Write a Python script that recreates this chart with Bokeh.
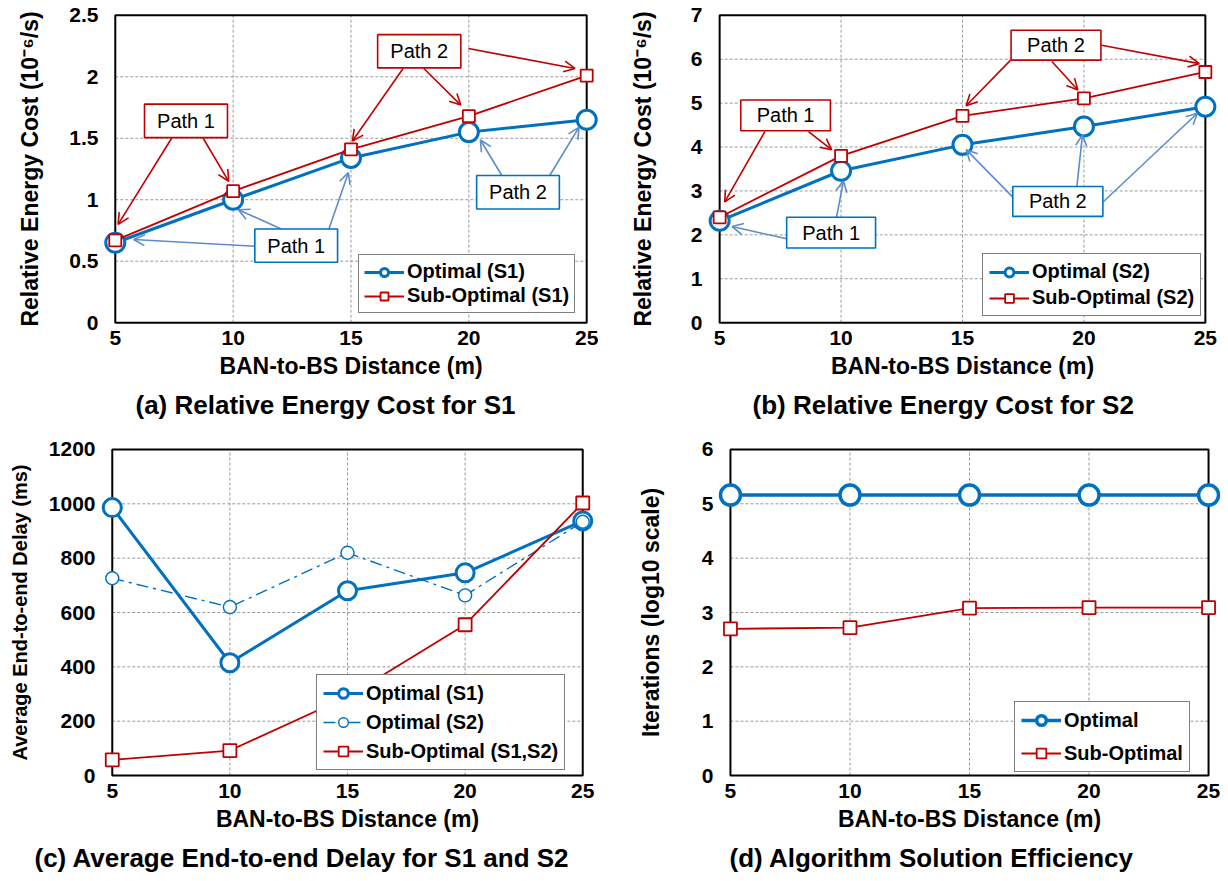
from bokeh.plotting import figure
from bokeh.models import (FixedTicker, Legend, LegendItem, Arrow, OpenHead, BoxAnnotation,
                          Label, Title, NumeralTickFormatter, Range1d)
from bokeh.layouts import column, row
from bokeh.embed import file_html
from bokeh.resources import INLINE

FONT = "Liberation Sans"
BLUE = "#0070C0"
RED = "#C00000"
ABLUE = "#5B8CCB"

# ---------------- data ----------------
distance = [5, 10, 15, 20, 25]
x_ticks = [5, 10, 15, 20, 25]

a_optimal = [0.65, 1.00, 1.34, 1.55, 1.65]
a_suboptimal = [0.67, 1.07, 1.41, 1.68, 2.01]
a_yticks = [0, 0.5, 1, 1.5, 2, 2.5]

b_optimal = [2.32, 3.46, 4.05, 4.47, 4.92]
b_suboptimal = [2.40, 3.80, 4.71, 5.11, 5.71]
b_yticks = [0, 1, 2, 3, 4, 5, 6, 7]

c_optimal_s1 = [986, 415, 680, 746, 937]
c_optimal_s2 = [726, 620, 820, 663, 934]
c_suboptimal = [58, 92, 290, 555, 1003]
c_yticks = [0, 200, 400, 600, 800, 1000, 1200]

d_optimal = [5.16, 5.16, 5.16, 5.16, 5.16]
d_suboptimal = [2.70, 2.72, 3.08, 3.09, 3.09]
d_yticks = [0, 1, 2, 3, 4, 5, 6]

# annotation callouts: (text, colour, box [left, right, bottom, top], arrows [(x0,y0,x1,y1),...])
a_callouts = [
    ("Path 1", RED, [6.24, 9.76, 1.505, 1.778], [(7.39, 1.50, 5.12, 0.80), (8.73, 1.50, 9.81, 1.15)]),
    ("Path 2", RED, [16.13, 19.66, 2.073, 2.343], [(17.21, 2.068, 15.06, 1.478), (18.09, 2.068, 19.66, 1.77),
                                                 (19.98, 2.23, 24.5, 2.068)]),
    ("Path 1", BLUE, [10.92, 14.43, 0.492, 0.762], [(10.92, 0.622, 5.78, 0.676), (12.04, 0.762, 10.22, 0.919),
                                                  (14.06, 0.762, 14.89, 1.22)]),
    ("Path 2", BLUE, [20.33, 23.84, 0.924, 1.197], [(21.4, 1.197, 20.49, 1.486), (23.43, 1.197, 24.67, 1.589)]),
]
b_callouts = [
    ("Path 1", RED, [5.87, 9.56, 4.37, 5.07], [(6.86, 4.35, 5.21, 2.75), (8.66, 4.35, 9.61, 3.94)]),
    ("Path 2", RED, [17.0, 20.7, 5.98, 6.66], [(16.98, 5.98, 15.15, 4.94), (18.68, 5.95, 19.75, 5.30),
                                             (20.73, 6.32, 24.75, 5.90)]),
    ("Path 1", BLUE, [7.76, 11.42, 1.70, 2.40], [(7.76, 1.91, 5.51, 2.19), (9.81, 2.40, 10.1, 3.23)]),
    ("Path 2", BLUE, [17.07, 20.78, 2.42, 3.10], [(17.07, 2.86, 15.15, 3.94), (19.71, 3.10, 19.94, 4.28),
                                                (20.81, 2.76, 24.67, 4.77)]),
]

XPAD = 0.5      # extra room so edge markers are not clipped
YPAD = 0.006    # fraction of y span


def make_fig(w, h, left, right, top, bottom, yticks, ylabel, ylabel_size, ylabel_standoff,
             caption, cap_offset, cap_standoff):
    ymax = yticks[-1]
    yp = ymax * YPAD
    p = figure(width=w, height=h, min_border_left=left, min_border_right=right,
               min_border_top=top, min_border_bottom=bottom,
               x_range=Range1d(x_ticks[0] - XPAD, x_ticks[-1] + XPAD),
               y_range=Range1d(yticks[0] - yp, ymax + yp),
               output_backend="svg", toolbar_location=None)
    p.background_fill_color = "white"
    p.border_fill_color = "white"
    p.outline_line_color = None
    p.xgrid.visible = False
    p.ygrid.visible = False
    # dashed grid inside the plotting box
    gx = x_ticks[1:-1]
    p.segment(x0=gx, y0=[yticks[0]] * len(gx), x1=gx, y1=[ymax] * len(gx),
              line_color="#9a9a9a", line_dash="3 2", line_width=1)
    gy = yticks[1:-1]
    p.segment(x0=[x_ticks[0]] * len(gy), y0=gy, x1=[x_ticks[-1]] * len(gy), y1=gy,
              line_color="#9a9a9a", line_dash="3 2", line_width=1)
    # plotting box border
    p.quad(left=[x_ticks[0]], right=[x_ticks[-1]], bottom=[yticks[0]], top=[ymax],
           fill_color=None, line_color="black", line_width=2)

    p.xaxis.ticker = FixedTicker(ticks=x_ticks)
    p.yaxis.ticker = FixedTicker(ticks=yticks)
    p.yaxis.formatter = NumeralTickFormatter(format="0.[0]")
    for ax in p.axis:
        ax.axis_line_color = None
        ax.major_tick_line_color = None
        ax.minor_tick_line_color = None
        ax.major_tick_out = 0
        ax.major_tick_in = 0
        ax.major_label_text_font = FONT
        ax.major_label_text_font_size = "21px"
        ax.major_label_text_font_style = "bold"
        ax.major_label_text_color = "black"
        ax.axis_label_text_font = FONT
        ax.axis_label_text_font_style = "bold"
        ax.axis_label_text_color = "black"
    p.xaxis.major_label_standoff = 6
    p.yaxis.major_label_standoff = 5
    p.xaxis.axis_label = "BAN-to-BS Distance (m)"
    p.xaxis.axis_label_text_font_size = "23px"
    p.xaxis.axis_label_standoff = 5
    p.yaxis.axis_label = ylabel
    p.yaxis.axis_label_text_font_size = ylabel_size
    p.yaxis.axis_label_standoff = ylabel_standoff
    t = Title(text=caption, align="left", offset=cap_offset, standoff=cap_standoff,
              text_font=FONT, text_font_size="26px", text_font_style="bold", text_color="black")
    p.add_layout(t, "below")
    return p


def add_series(p, y, color, lw, marker, msize, mlw, dash="solid"):
    ln = p.line(distance, y, line_color=color, line_width=lw, line_dash=dash)
    sc = p.scatter(distance, y, marker=marker, size=msize, line_color=color, line_width=mlw,
                   fill_color="white")
    return [ln, sc]


def add_legend(p, items, loc, label_height, spacing, padding):
    leg = Legend(items=[LegendItem(label=lab, renderers=r) for lab, r in items],
                 location=loc, margin=0, padding=padding, spacing=spacing,
                 glyph_width=40, glyph_height=label_height, label_height=label_height,
                 label_standoff=3, border_line_color="black", border_line_width=1.5,
                 background_fill_color="white", background_fill_alpha=1,
                 label_text_font=FONT, label_text_font_size="20px", label_text_font_style="bold",
                 label_text_color="black")
    p.add_layout(leg)


def add_callouts(p, callouts):
    for text, color, box, arrows in callouts:
        acolor = color if color == RED else ABLUE
        for x0, y0, x1, y1 in arrows:
            p.add_layout(Arrow(end=OpenHead(size=11, line_color=acolor, line_width=1.6),
                               x_start=x0, y_start=y0, x_end=x1, y_end=y1,
                               line_color=acolor, line_width=1.6))
    for text, color, box, arrows in callouts:
        p.add_layout(BoxAnnotation(left=box[0], right=box[1], bottom=box[2], top=box[3],
                                   fill_color="white", fill_alpha=1, line_color=color,
                                   line_width=1.6, line_alpha=1))
        p.add_layout(Label(x=(box[0] + box[1]) / 2, y=(box[2] + box[3]) / 2, text=text,
                           text_align="center", text_baseline="middle", text_font=FONT,
                           text_font_size="20px", text_color="black"))


# ---------------- panel (a) ----------------
pa = make_fig(610, 432, 103, 12, 13, 108, a_yticks, "Relative Energy Cost (10\u207b\u2076/s)", "23px", 23,
              "(a) Relative Energy Cost for S1", 32, 12)
ra1 = add_series(pa, a_optimal, BLUE, 3, "circle", 19, 3)
ra2 = add_series(pa, a_suboptimal, RED, 1.8, "square", 12, 1.8)
add_callouts(pa, a_callouts)
add_legend(pa, [("Optimal (S1)", ra1), ("Sub-Optimal (S1)", ra2)], (255, 11), 20, 1, 5)

# ---------------- panel (b) ----------------
pb = make_fig(618, 432, 97, 11, 13, 107, b_yticks, "Relative Energy Cost (10\u207b\u2076/s)", "23px", 32,
              "(b) Relative Energy Cost for S2", 45, 12)
rb1 = add_series(pb, b_optimal, BLUE, 3, "circle", 19, 3)
rb2 = add_series(pb, b_suboptimal, RED, 1.8, "square", 12, 1.8)
add_callouts(pb, b_callouts)
add_legend(pb, [("Optimal (S2)", rb1), ("Sub-Optimal (S2)", rb2)], (275, 8), 22, 3, 6)

# ---------------- panel (c) ----------------
pc = make_fig(610, 449, 100, 16, 13, 104, c_yticks, "Average End-to-end Delay (ms)", "20px", 15,
              "(c) Average End-to-end Delay for S1 and S2", -66, 12)
rc1 = add_series(pc, c_optimal_s1, BLUE, 3, "circle", 18, 3)
rc2 = add_series(pc, c_optimal_s2, BLUE, 1.4, "circle", 13, 1.4, dash="12 5 3 5")
rc3 = add_series(pc, c_suboptimal, RED, 1.8, "square", 13, 1.8)
add_legend(pc, [("Optimal (S1)", rc1), ("Optimal (S2)", rc2), ("Sub-Optimal (S1,S2)", rc3)],
           (216, 7), 24, 5, 6)

# ---------------- panel (d) ----------------
pd_ = make_fig(618, 449, 108, 8, 15, 104, d_yticks, "Iterations (log10 scale)", "23px", 35,
               "(d) Algorithm Solution Efficiency", 11, 12)
rd1 = add_series(pd_, d_optimal, BLUE, 3.5, "circle", 20, 3.5)
rd2 = add_series(pd_, d_suboptimal, RED, 1.8, "square", 13, 1.8)
add_legend(pd_, [("Optimal", rd1), ("Sub-Optimal", rd2)], (296, 5), 24, 9, 6)

layout = column(row(pa, pb), row(pc, pd_))
open("out.html", "w").write(file_html(layout, INLINE))
